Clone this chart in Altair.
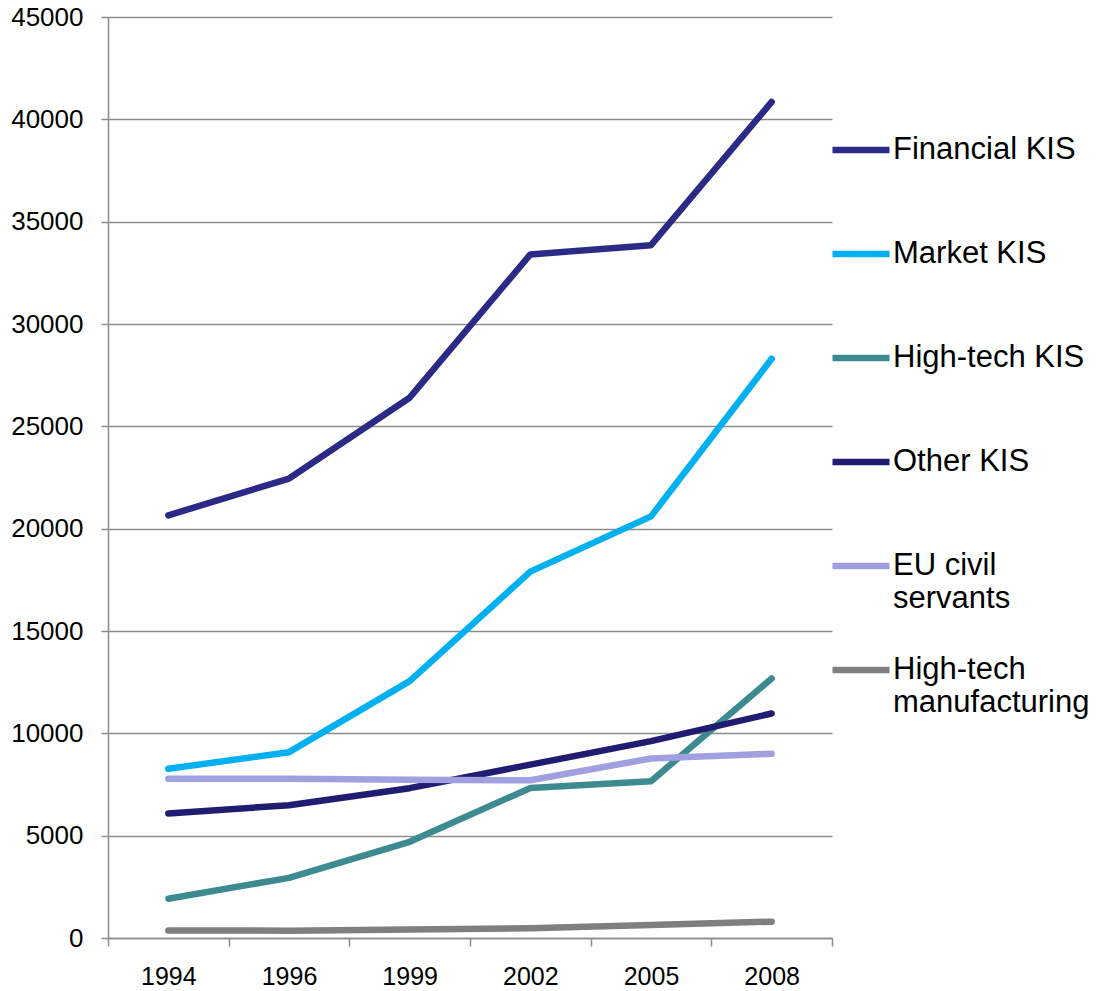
import altair as alt
import pandas as pd

years = ["1994", "1996", "1999", "2002", "2005", "2008"]
series_names = ["Financial KIS", "Market KIS", "High-tech KIS", "Other KIS",
                "EU civil servants", "High-tech manufacturing"]
financial_kis = [20650, 22450, 26400, 33400, 33850, 40850]
market_kis = [8270, 9080, 12550, 17900, 20600, 28300]
hightech_kis = [1920, 2940, 4700, 7330, 7660, 12680]
other_kis = [6080, 6490, 7320, 8470, 9620, 10970]
eu_civil = [7780, 7780, 7730, 7710, 8770, 9000]
hightech_manuf = [370, 360, 410, 480, 630, 800]
colors = ["#2B2A86", "#00B0F0", "#3D8B90", "#201C72", "#A09FDF", "#7F7F7F"]
widths = [6.5, 6.5, 6.5, 4.5, 5, 7]

values = [financial_kis, market_kis, hightech_kis, other_kis, eu_civil, hightech_manuf]
rows = []
for name, vals in zip(series_names, values):
    for y, v in zip(years, vals):
        rows.append({"year": y, "series": name, "value": v})
df = pd.DataFrame(rows)

FONT = "Liberation Sans"

label_expr = ("datum.label == 'EU civil servants' ? ['EU civil', 'servants'] : "
              "datum.label == 'High-tech manufacturing' ? ['High-tech', 'manufacturing'] : datum.label")

legend = alt.Legend(
    title=None, orient="none", legendX=721, legendY=101,
    symbolType="stroke", symbolSize=3249, labelFontSize=31, labelFont=FONT,
    labelColor="#000000", labelLimit=400, labelOffset=0, rowPadding=24,
    gridAlign="all", labelExpr=label_expr,
)

chart = alt.Chart(df).mark_line(strokeCap="round", strokeJoin="round").encode(
    x=alt.X("year:O", sort=years, title=None,
            scale=alt.Scale(type="band", paddingInner=0, paddingOuter=0),
            axis=alt.Axis(labelAngle=0, labelFont=FONT, labelFontSize=25, labelColor="#000000",
                          tickBand="extent", tickSize=8, tickColor="#8C8C8C", tickWidth=1.5,
                          domainColor="#8C8C8C", domainWidth=1.5, labelPadding=18, grid=False)),
    y=alt.Y("value:Q", title=None,
            scale=alt.Scale(domain=[0, 45000], nice=False),
            axis=alt.Axis(values=list(range(0, 45001, 5000)), format="d",
                          labelFont=FONT, labelFontSize=26,
                          labelColor="#000000", tickSize=7, tickColor="#8C8C8C", tickWidth=1.5,
                          domainColor="#8C8C8C", domainWidth=1.5, labelPadding=18,
                          grid=True, gridColor="#8C8C8C", gridWidth=1.5)),
    color=alt.Color("series:N", sort=series_names,
                    scale=alt.Scale(domain=series_names, range=colors), legend=legend),
    strokeWidth=alt.StrokeWidth("series:N", sort=series_names,
                                scale=alt.Scale(domain=series_names, range=widths), legend=legend),
    order=alt.Order("series_order:Q"),
).transform_calculate(
    series_order="indexof(" + str(series_names) + ", datum.series)"
).properties(
    width=724, height=921,
    autosize=alt.AutoSizeParams(type="none"),
    padding={"left": 108, "top": 17, "right": 265, "bottom": 53},
    background="#FFFFFF",
).configure_view(stroke=None)

chart.save("out.html", embed_options={"renderer": "svg", "actions": False})
